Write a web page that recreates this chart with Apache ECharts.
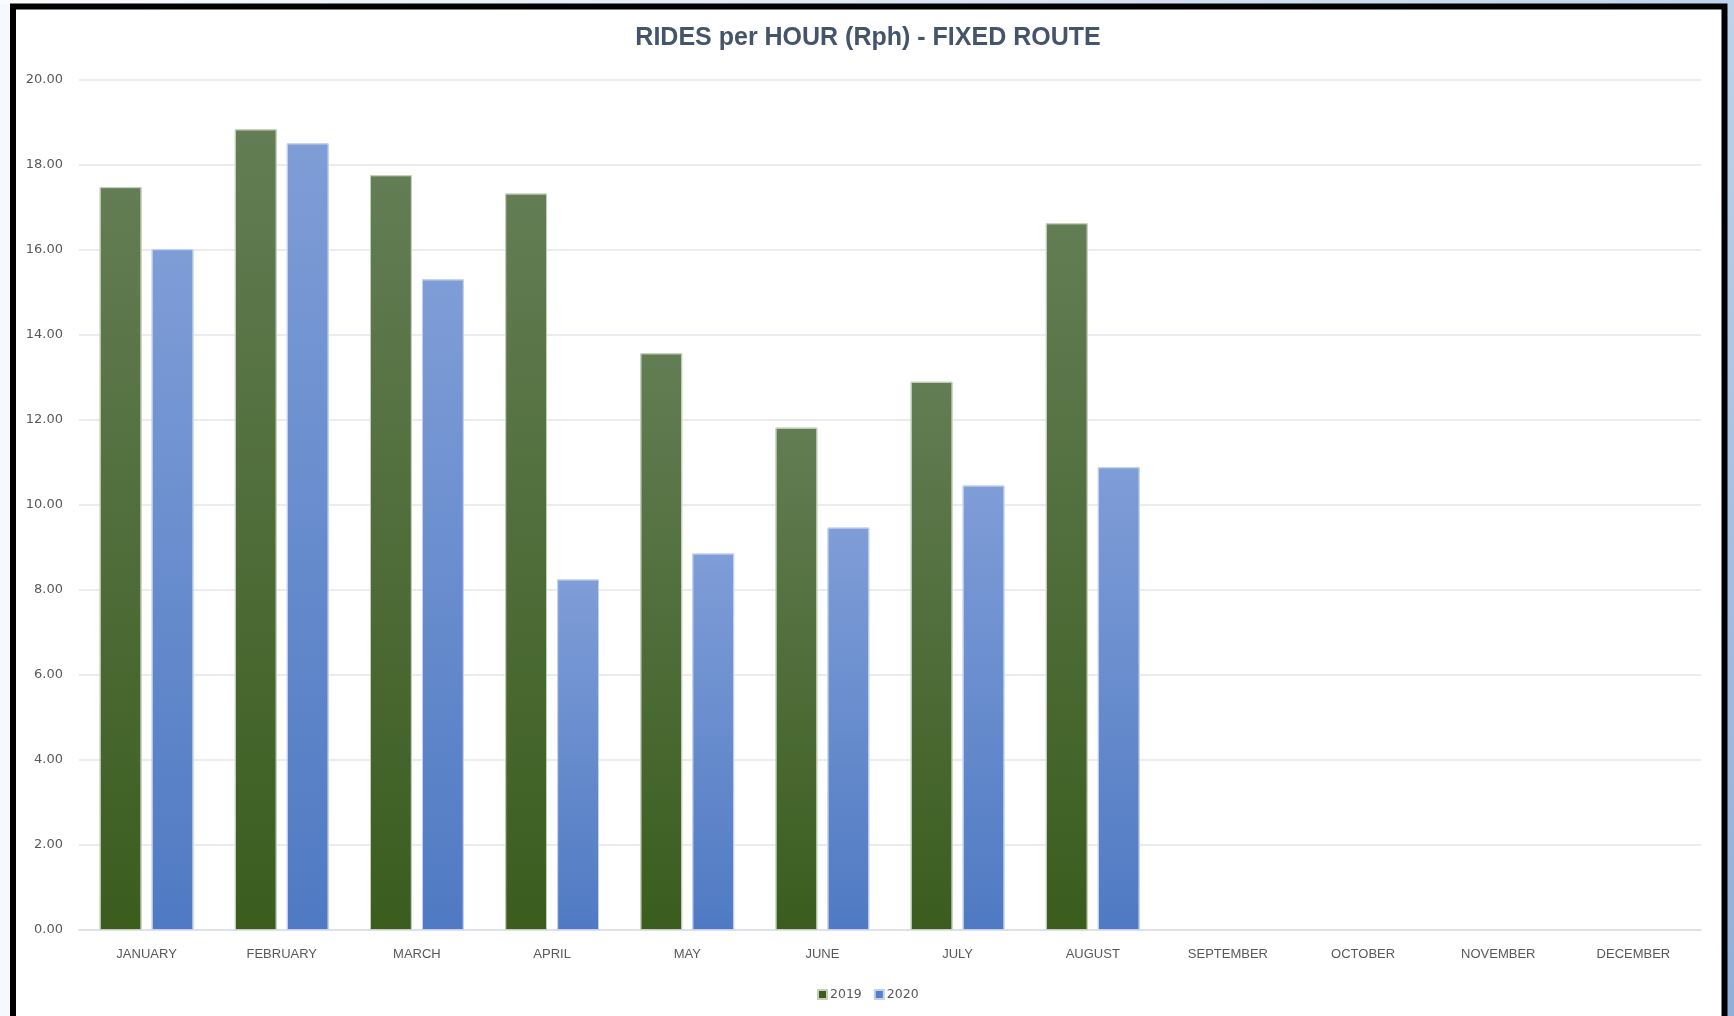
<!DOCTYPE html>
<html>
<head>
<meta charset="utf-8">
<script src="https://cdn.jsdelivr.net/npm/echarts@6/dist/echarts.min.js"></script>
<style>
html,body{margin:0;padding:0;background:#f5f8fc;}
#chart{width:1734px;height:1016px;}
</style>
</head>
<body>
<div id="chart"></div>
<script>
var categories = ['JANUARY','FEBRUARY','MARCH','APRIL','MAY','JUNE','JULY','AUGUST','SEPTEMBER','OCTOBER','NOVEMBER','DECEMBER'];
var seriesNames = ['2019','2020'];
var rph2019 = [17.48, 18.84, 17.76, 17.33, 13.57, 11.82, 12.90, 16.63, null, null, null, null];
var rph2020 = [16.02, 18.51, 15.31, 8.25, 8.86, 9.47, 10.46, 10.89, null, null, null, null];
var yMin = 0, yMax = 20, yStep = 2;

var chart = echarts.init(document.getElementById('chart'), null, {renderer:'canvas'});
function grad(top, bottom){
  return new echarts.graphic.LinearGradient(0,0,0,1,[{offset:0,color:top},{offset:1,color:bottom}]);
}
var labelFont = '"Liberation Sans", Arial, sans-serif';
var option = {
  backgroundColor: '#f5f8fc',
  animation: false,
  graphic: [
    {type:'rect', z:-10, silent:true, shape:{x:0,y:0,width:1734,height:4},
     style:{fill:new echarts.graphic.LinearGradient(0,0,1,0,[{offset:0,color:'#fbfcfe'},{offset:1,color:'#bfd4ec'}])}},
    {type:'rect', z:-10, silent:true, shape:{x:1727,y:0,width:7,height:1016},
     style:{fill:new echarts.graphic.LinearGradient(0,0,0,1,[{offset:0,color:'#bdd3ec'},{offset:1,color:'#8cafdc'}])}},
    {type:'rect', z:-9, silent:true, shape:{x:13,y:6.5,width:1711.5,height:1100},
     style:{fill:'#ffffff', stroke:'#000000', lineWidth:6}}
  ],
  title: {
    text: 'RIDES per HOUR (Rph) - FIXED ROUTE',
    left: 863, top: 21, textAlign: 'center',
    textStyle: {fontFamily:'"Liberation Sans", Arial, sans-serif', fontWeight:'bold', fontSize:25, color:'#44546A'}
  },
  legend: {
    data: [
      {name:seriesNames[0], itemStyle:{color:'#3c5f1f'}},
      {name:seriesNames[1], itemStyle:{color:'#5580c8'}}
    ],
    left: 868, top: 983, icon: 'rect', itemWidth: 9, itemHeight: 9, itemGap: 12,
    textStyle: {fontFamily:'"DejaVu Sans", sans-serif', fontSize:12.5, color:'#595959', padding:[0,0,0,-2]}
  },
  grid: {left:79, right:33, top:80, bottom:86, containLabel:false},
  xAxis: {
    type:'category', data: categories,
    axisLine:{show:true, lineStyle:{color:'#dadee5', width:1.5}},
    axisTick:{show:false},
    axisLabel:{fontFamily:labelFont, fontSize:13, color:'#595959', margin:18}
  },
  yAxis: {
    type:'value', min:yMin, max:yMax, interval:yStep,
    axisLine:{show:false}, axisTick:{show:false},
    splitLine:{lineStyle:{color:'#e3e6ec', width:1.5}},
    axisLabel:{fontFamily:'"DejaVu Sans", sans-serif', fontSize:13, color:'#595959', margin:16,
      formatter:function(v){return v.toFixed(2);}}
  },
  series: [
    {name:seriesNames[0], type:'bar', data:rph2019, barWidth:'31%', barGap:'24%',
     itemStyle:{color:grad('#637d54','#3a5d1e'), borderColor:'#c3cfbb', borderWidth:1}},
    {name:seriesNames[1], type:'bar', data:rph2020, barWidth:'31%', barGap:'24%',
     itemStyle:{color:grad('#7f9dd7','#4f7ac3'), borderColor:'#c2d1ee', borderWidth:1}}
  ]
};
chart.setOption(option);
setTimeout(function(){
  var view = chart._componentsViews.filter(function(v){return v.type==='legend.plain';})[0];
  if (view && view.group) {
    var r = view.group.getBoundingRect();
    chart.setOption({legend:{left: Math.round(868 - r.width/2)}});
  }
},0);
</script>
</body>
</html>
